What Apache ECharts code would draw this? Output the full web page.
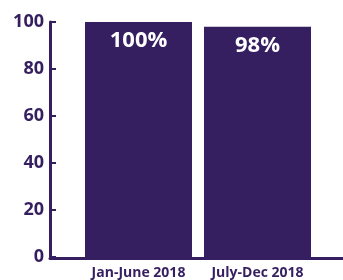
<!DOCTYPE html>
<html>
<head>
<meta charset="utf-8">
<script src="https://cdn.jsdelivr.net/npm/echarts@6/dist/echarts.min.js"></script>
<style>
  html, body { margin: 0; padding: 0; background: #fff; }
  #chart { width: 343px; height: 280px; }
</style>
</head>
<body>
<div id="chart"></div>
<script>
  // data
  var categories = ['Jan-June 2018', 'July-Dec 2018'];
  var values = [100, 98];
  var yTicks = [0, 20, 40, 60, 80, 100];

  var purple = '#351f60';

  var chart = echarts.init(document.getElementById('chart'));
  chart.setOption({
    animation: false,
    grid: [
      {left: 79, right: 26, top: 22, bottom: 22},
      // wider grid only for the long baseline
      {left: 50, right: 0, top: 22, bottom: 22}
    ],
    xAxis: [
      {
        gridIndex: 0,
        type: 'category',
        data: categories,
        axisLine: {show: false},
        axisTick: {show: false},
        axisLabel: {
          interval: 0,
          color: purple,
          fontFamily: 'Open Sans',
          fontWeight: 'bold',
          fontSize: 14,
          margin: 9
        }
      },
      {
        gridIndex: 1,
        type: 'value',
        min: 0,
        max: 1,
        axisLine: {show: true, lineStyle: {color: purple, width: 3}},
        axisTick: {show: false},
        axisLabel: {show: false},
        splitLine: {show: false}
      }
    ],
    yAxis: [
      {
        gridIndex: 0,
        type: 'value',
        min: yTicks[0],
        max: yTicks[yTicks.length - 1],
        interval: 20,
        offset: 29,
        axisLine: {show: true, lineStyle: {color: purple, width: 3}},
        axisTick: {show: true, inside: true, length: 6, lineStyle: {color: purple, width: 2}},
        axisLabel: {
          color: purple,
          fontFamily: 'Open Sans',
          fontWeight: 'bold',
          fontSize: 18,
          margin: 6
        },
        splitLine: {show: false}
      },
      {
        gridIndex: 1,
        type: 'value',
        show: false,
        min: 0,
        max: 100
      }
    ],
    series: [
      {
        type: 'bar',
        xAxisIndex: 0,
        yAxisIndex: 0,
        data: values,
        barWidth: 107,
        itemStyle: {color: purple},
        label: {
          show: true,
          position: 'insideTop',
          distance: 8,
          formatter: '{c}%',
          color: '#fff',
          fontFamily: 'Open Sans',
          fontWeight: 'bold',
          fontSize: 22
        }
      }
    ]
  });
</script>
</body>
</html>
